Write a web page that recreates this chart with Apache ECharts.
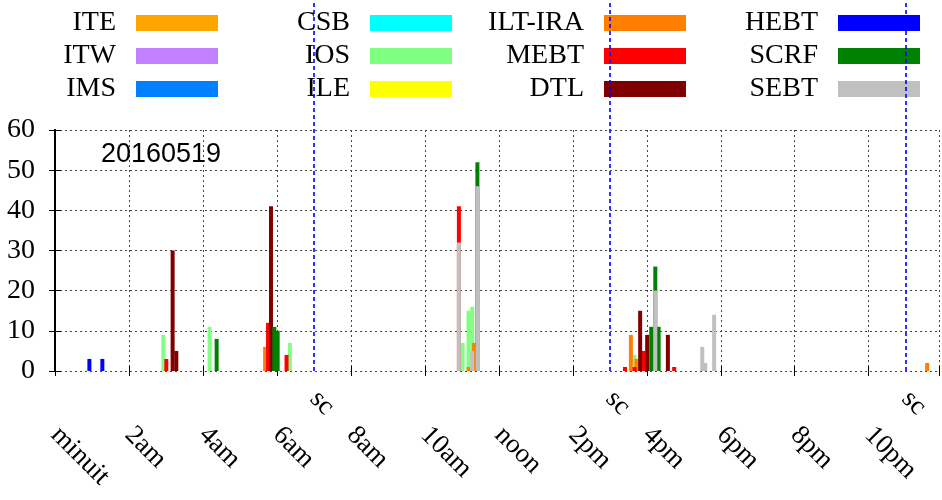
<!DOCTYPE html>
<html>
<head>
<meta charset="utf-8">
<script src="https://cdn.jsdelivr.net/npm/echarts@6/dist/echarts.min.js"></script>
<style>html,body{margin:0;background:#fff}#main{width:942px;height:500px}</style>
</head>
<body>
<div id="main"></div>
<script>
// x ticks every 2 hours
const hourLabels = ['minuit', '2am', '4am', '6am', '8am', '10am', 'noon', '2pm', '4pm', '6pm', '8pm', '10pm'];
const shiftChanges = [7, 15, 23];
const dateLabel = '20160519';

// [hour of day, count] for each subsystem
const ITE = [];
const ITW = [];
const IMS = [];
const CSB = [];
const IOS = [[2.93, 9], [4.18, 11], [6.35, 7], [11.02, 7], [11.18, 14], [11.28, 11], [15.67, 3]];
const ILE = [];
const ILT_IRA = [[5.68, 6], [11.18, 1], [11.33, 7], [15.57, 9], [15.72, 3], [23.58, 2]];
const MEBT = [[3.01, 3], [5.76, 12], [6.26, 4], [10.92, 9], [15.41, 1], [15.67, 1], [15.91, 5], [16.74, 1]];
const DTL = [[3.18, 30], [3.28, 5], [5.84, 41], [15.82, 15], [16.01, 9], [16.57, 9]];
const HEBT = [[0.93, 3], [1.28, 3]];
const SCRF = [[4.37, 8], [5.93, 11], [6.02, 10], [11.42, 6], [16.12, 11], [16.23, 6], [16.32, 11]];
const SEBT = [[10.92, 32], [11.28, 5], [11.42, 46], [16.23, 20], [17.50, 6], [17.58, 2], [17.82, 14]];

const names = ['ITE', 'ITW', 'IMS', 'CSB', 'IOS', 'ILE', 'ILT-IRA', 'MEBT', 'DTL', 'HEBT', 'SCRF', 'SEBT'];
const counts = {
  'ITE': ITE, 'ITW': ITW, 'IMS': IMS, 'CSB': CSB, 'IOS': IOS, 'ILE': ILE,
  'ILT-IRA': ILT_IRA, 'MEBT': MEBT, 'DTL': DTL, 'HEBT': HEBT, 'SCRF': SCRF, 'SEBT': SEBT
};
const colors = {
  'ITE': '#ffa500', 'ITW': '#c080ff', 'IMS': '#0080ff', 'CSB': '#00ffff', 'IOS': '#80ff80', 'ILE': '#ffff00',
  'ILT-IRA': '#ff8000', 'MEBT': '#ff0000', 'DTL': '#800000', 'HEBT': '#0000ff', 'SCRF': '#008000', 'SEBT': '#c0c0c0'
};
const legendCols = [['ITE', 'ITW', 'IMS'], ['CSB', 'IOS', 'ILE'], ['ILT-IRA', 'MEBT', 'DTL'], ['HEBT', 'SCRF', 'SEBT']];
const legendRight = [724, 490, 256, 22];

function countAt(name, t) {
  const p = counts[name].find(function (d) { return d[0] === t; });
  return p ? p[1] : 0;
}

const serif = 'Liberation Serif';
const xMax = 23.9;
const gridLine = {show: true, lineStyle: {color: '#444', type: [2, 3], width: 1}};

// gnuplot style: each series drawn as the running total of itself and the ones after it,
// the later (lower) series painted over the earlier ones
var series = names.map(function (name, i) {
  return {
    type: 'bar', name: name, barWidth: 4, barGap: '-100%',
    xAxisIndex: 0, yAxisIndex: 0,
    itemStyle: {color: colors[name]},
    data: counts[name].map(function (d) {
      let total = 0;
      names.slice(i).forEach(function (n) { total += countAt(n, d[0]); });
      return [d[0], total];
    })
  };
});
series.push({
  type: 'line', xAxisIndex: 2, yAxisIndex: 2, data: [[0, 0]], showSymbol: false,
  lineStyle: {opacity: 0}, silent: true,
  markLine: {
    silent: true, symbol: 'none', label: {show: false},
    lineStyle: {color: '#0000ff', type: [4, 3], width: 1.6},
    data: shiftChanges.map(function (h) { return {xAxis: h}; })
  }
});

var chart = echarts.init(document.getElementById('main'));
chart.setOption({
  animation: false,
  backgroundColor: '#fff',
  textStyle: {fontFamily: serif},
  title: {
    text: dateLabel, left: 96, top: 136,
    textStyle: {fontFamily: 'Liberation Sans', fontSize: 27, fontWeight: 'normal', color: '#000'}
  },
  legend: legendCols.map(function (col, i) {
    return {
      orient: 'vertical', align: 'right', right: legendRight[i], top: 9, padding: 0,
      data: col, icon: 'rect', itemWidth: 82, itemHeight: 16, itemGap: 5, selectedMode: false,
      textStyle: {fontFamily: serif, fontSize: 28, lineHeight: 28, color: '#000', padding: [0, 15, 0, 0]}
    };
  }),
  grid: [
    {left: 55, right: 3, top: 130, bottom: 129},
    {left: 55, right: 3, top: 0, bottom: 129}
  ],
  xAxis: [
    {
      gridIndex: 0, type: 'value', position: 'bottom', min: 0, max: xMax, interval: 2,
      axisLine: {show: false},
      axisTick: {show: true, inside: true, length: 5, lineStyle: {color: '#000'}},
      axisLabel: {
        rotate: -45, margin: 60, fontFamily: serif, fontSize: 27, color: '#000',
        formatter: function (v) { return v % 2 === 0 ? hourLabels[v / 2] : ''; }
      },
      splitLine: gridLine
    },
    {
      gridIndex: 0, type: 'value', position: 'top', min: 0, max: xMax, interval: 2,
      axisLine: {show: false}, axisLabel: {show: false}, splitLine: {show: false},
      axisTick: {show: true, inside: true, length: 5, lineStyle: {color: '#000'}}
    },
    {
      gridIndex: 1, type: 'value', position: 'bottom', min: 0, max: xMax, interval: 1,
      axisLine: {show: false}, axisTick: {show: false}, splitLine: {show: false},
      axisLabel: {
        rotate: -45, margin: 24, fontFamily: serif, fontSize: 27, color: '#000',
        formatter: function (v) { return shiftChanges.indexOf(v) >= 0 ? 'sc' : ''; }
      }
    }
  ],
  yAxis: [
    {
      gridIndex: 0, type: 'value', position: 'left', min: 0, max: 60, interval: 10,
      axisLine: {show: true, lineStyle: {color: '#000', width: 2}},
      axisTick: {show: true, inside: true, length: 6, lineStyle: {color: '#000'}},
      axisLabel: {margin: 20, fontFamily: serif, fontSize: 28, color: '#000'},
      splitLine: gridLine
    },
    {
      gridIndex: 0, type: 'value', position: 'right', min: 0, max: 60, interval: 10,
      axisLine: {show: true, lineStyle: {color: '#000', width: 2}},
      axisTick: {show: true, inside: true, length: 6, lineStyle: {color: '#000'}},
      axisLabel: {show: false}, splitLine: {show: false}
    },
    {gridIndex: 1, type: 'value', min: 0, max: 1, show: false}
  ],
  series: series
});
</script>
</body>
</html>
